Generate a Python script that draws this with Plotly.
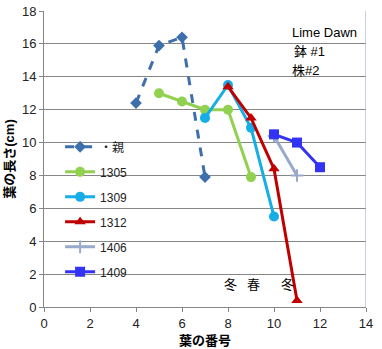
import plotly.graph_objects as go

# Data
oya_x = [4, 5, 6, 7]
oya_y = [12.4, 15.9, 16.4, 7.9]
s1305_x = [5, 6, 7, 8, 9]
s1305_y = [13.0, 12.5, 12.0, 12.0, 7.9]
s1309_x = [7, 8, 9, 10]
s1309_y = [11.5, 13.5, 10.9, 5.5]
s1312_x = [8, 9, 10, 11]
s1312_y = [13.4, 11.5, 8.4, 0.4]
s1406_x = [10, 11]
s1406_y = [10.4, 8.0]
s1409_x = [10, 11, 12]
s1409_y = [10.5, 10.0, 8.5]

FONT = "Liberation Sans, Noto Sans CJK JP, sans-serif"

fig = go.Figure()
series = [
    ("・親", oya_x, oya_y, "#3E6FAD", "diamond", "dash", 9),
    ("1305", s1305_x, s1305_y, "#92D050", "circle", "solid", 10),
    ("1309", s1309_x, s1309_y, "#16AEE6", "circle", "solid", 10),
    ("1312", s1312_x, s1312_y, "#C00000", "triangle-up", "solid", 10),
    ("1406", s1406_x, s1406_y, "#98AACB", "cross-thin", "solid", 9),
    ("1409", s1409_x, s1409_y, "#3333F5", "square", "solid", 10),
]
for i, (name, xs, ys, col, sym, dash, ms) in enumerate(series):
    mk = dict(symbol=sym, size=ms, color=col)
    if sym == "cross-thin":
        mk["line"] = dict(color=col, width=2)
    fig.add_trace(go.Scatter(
        x=xs, y=ys, name=name, mode="lines+markers",
        line=dict(color=col, width=3, dash=dash),
        marker=mk, legendgroup=str(i),
    ))

fig.update_layout(
    width=382, height=349,
    margin=dict(l=44, r=16, t=11, b=42),
    paper_bgcolor="white", plot_bgcolor="white",
    font=dict(family=FONT, size=13, color="#222"),
    legend=dict(x=0.05, y=0.59, xanchor="left", yanchor="top",
                bgcolor="rgba(0,0,0,0)", tracegroupgap=6,
                font=dict(size=12)),
    xaxis=dict(range=[0, 14], dtick=2, showgrid=False, zeroline=False,
               showline=True, linecolor="#868686", linewidth=1,
               ticks="outside", ticklen=4, tickcolor="#868686",
               automargin=False,
               title=dict(text="<b>葉の番号</b>", standoff=6,
                          font=dict(size=13, color="#000"))),
    yaxis=dict(range=[0, 18], dtick=2, showgrid=True, gridcolor="#868686",
               zeroline=False, showline=True, linecolor="#868686",
               ticks="outside", ticklen=4, tickcolor="#868686",
               automargin=False,
               title=dict(text="<b>葉の長さ(cm)</b>", standoff=4,
                          font=dict(size=13, color="#000"))),
)
fig.add_shape(type="line", xref="x", yref="y", x0=14, x1=14, y0=0, y1=18,
              line=dict(color="#8EA3C2", width=1))

annots = [
    ("Lime Dawn", 10.7, 16.7),
    ("鉢 #1", 10.8, 15.55),
    ("株#2", 10.7, 14.4),
    ("冬", 7.75, 1.35),
    ("春", 8.75, 1.35),
    ("冬", 10.2, 1.35),
]
for t, x, y in annots:
    fig.add_annotation(text=t, x=x, y=y, xref="x", yref="y", showarrow=False,
                       xanchor="left", font=dict(size=13, color="#000"))

fig.write_html("out.html")
